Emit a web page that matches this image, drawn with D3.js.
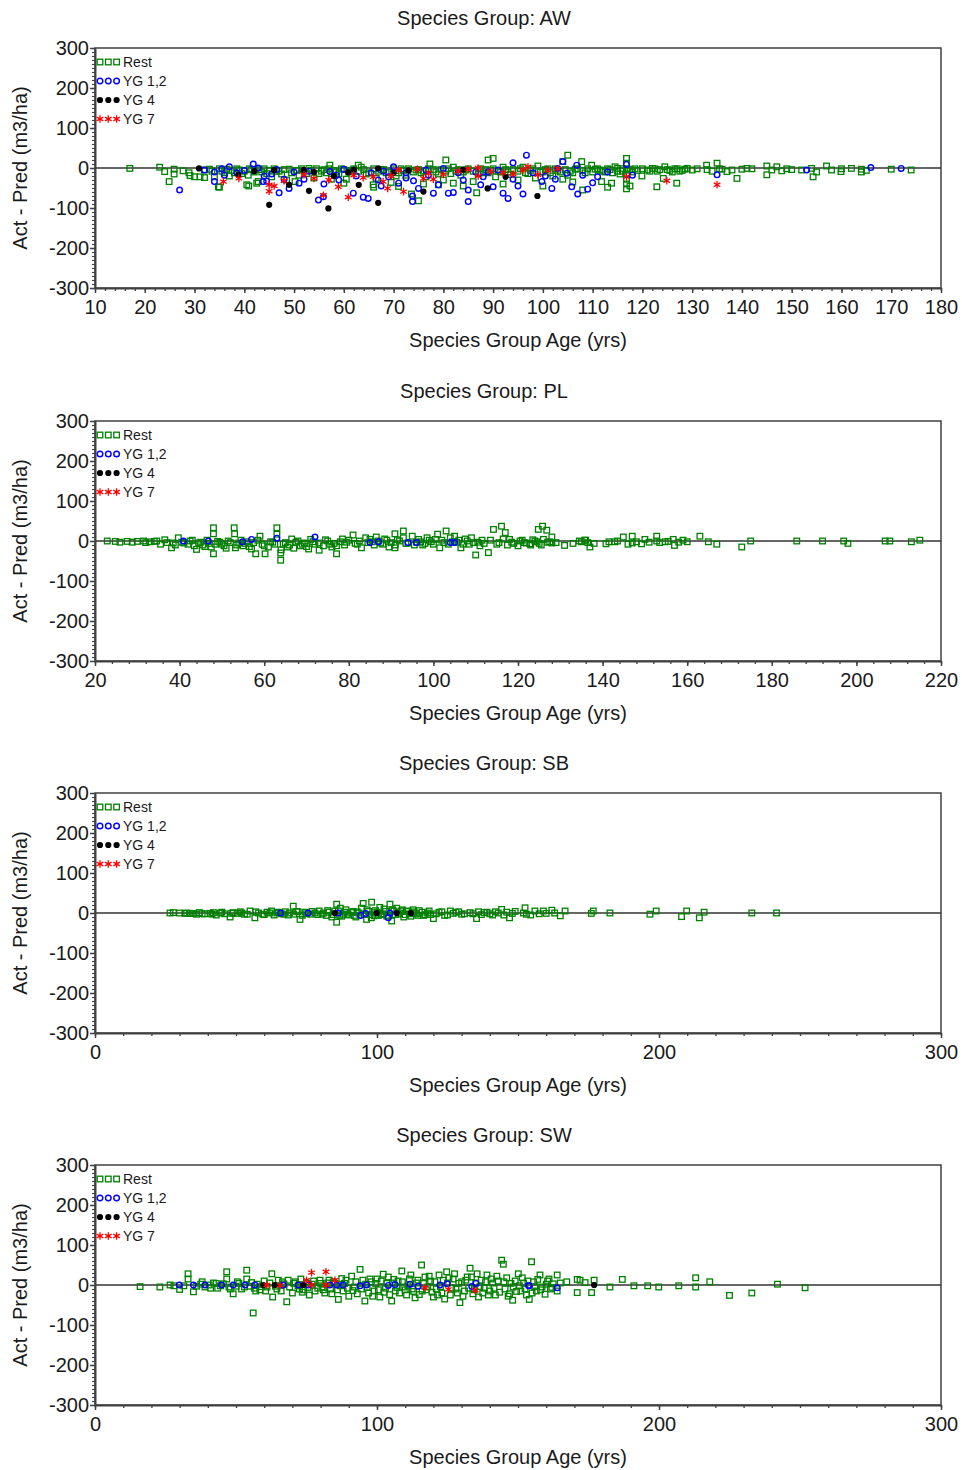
<!DOCTYPE html>
<html><head><meta charset="utf-8">
<script src="https://cdn.jsdelivr.net/npm/d3@7"></script>
<style>
html,body{margin:0;padding:0;background:#fff;}
svg{display:block;font-family:"Liberation Sans",Arial,sans-serif;}
</style></head>
<body>
<svg id="chart" width="962" height="1470"></svg>
<script>
// ---------- DATA ----------
const panelTitles = ["Species Group: AW","Species Group: PL","Species Group: SB","Species Group: SW"];
const seriesNames = ["Rest","YG 1,2","YG 4","YG 7"];
const xDomains = [[10,180],[20,220],[0,300],[0,300]];
const xMajorTicks = [
  [10,20,30,40,50,60,70,80,90,100,110,120,130,140,150,160,170,180],
  [20,40,60,80,100,120,140,160,180,200,220],
  [0,100,200,300],
  [0,100,200,300]
];
const xMinorSteps = [2,4,10,10];
const yTicks = [-300,-200,-100,0,100,200,300];
const xTitle = "Species Group Age (yrs)";
const yTitle = "Act - Pred (m3/ha)";

const awRest = [[17,-1],[23,2],[24,-9],[24.9,-34],[25.9,-3],[25.9,-15],[27.7,-7],[28.9,-12],[29.1,-19],[30,-22],[31.1,-22],[32,-24],[32,-5],[33,-3],[34,-22],[34.8,-47],[35,-48],[35.5,-8],[36.5,-3],[37,-20],[38,-12],[39,-5],[40.5,-42],[40.9,-45],[40.8,-18],[41.5,-4],[42.5,-38],[42.8,-34],[43.5,-10],[44,-2],[45.5,-22],[46.5,-8],[47.5,-15],[48.5,-30],[49,-3],[50.2,-34],[51,-18],[52,-8],[53,-1],[54,-25],[55,-14],[56,-4],[57.2,7],[57.5,-28],[58.5,-10],[59.5,-2],[60.5,-28],[61.5,-6],[62.9,7],[63.5,2],[64.5,-15],[65.9,-42],[66.5,-26],[67.5,-4],[68.5,-12],[69.5,-36],[70.5,-20],[71.5,-2],[72.5,-18],[73.6,-65],[74.5,-5],[75,-82],[75.5,-12],[76.5,-22],[77.3,10],[78,-4],[79,-15],[80,-30],[80.5,20],[81,-2],[82,-38],[82.5,-8],[83.5,-18],[84.5,-5],[86,-34],[86.7,-62],[87.5,-2],[88,-12],[89,20],[89.5,-6],[90,24],[90.5,-22],[91.5,-10],[92.5,-4],[93.5,-16],[95,-30],[95.5,-2],[96.5,-12],[97.5,-6],[98.5,-25],[99,5],[100,-10],[101,-2],[102,-20],[103,-6],[104,16],[105,32],[105.5,-8],[106.5,-3],[107.8,16],[108.5,-12],[109.8,7],[110.5,-3],[111.5,-5],[111.8,-34],[112.5,-10],[113,-2],[113.8,-38],[114.5,3],[115,-8],[115.5,-15],[116,-2],[116.8,24],[116.8,12],[116.8,-5],[116.8,-15],[116.8,-28],[116.8,-40],[116.8,-52],[117.5,-4],[118,-10],[119.9,-20],[120,-2],[121,-5],[122,-1],[122.9,-47],[123,-8],[124.2,-26],[124.5,3],[125,-4],[126,-10],[126.9,-38],[127,-2],[128,-6],[129,-1],[132.9,7],[133,-4],[134,-8],[135,12],[135.5,-2],[137,-9],[139,-26],[140,-3],[141,-1],[145,5],[145,-17],[146,-5],[147,3],[148,-7],[152,-5],[154,-1],[154.3,-22],[155,-10],[157,5],[158,-5],[159.9,-9],[164,-10],[164,-3],[174,-5],
  [33.5,-8],[35,-2],[36,-12],[37.5,-6],[38.5,-2],[39.5,-14],[40,-8],[41,-2],[42,-10],[43,-4],[44.5,-14],[45,-6],[46,-2],[47,-8],[48,-4],[49.5,-12],[50.5,-6],[51.5,-2],[52.5,-14],[53.5,-6],[54.5,-2],[55.5,-8],[56.5,-12],[57,-2],[58,-6],[59,-14],[60,-4],[61,-10],[62,-2],[63,-8],[64,-4],[65,-12],[66,-2],[67,-8],[68,-4],[69,-10],[70,-2],[71,-12],[72,-6],[73,-2],[74,-10],[75,-4],[76,-8],[77,-2],[78.5,-10],[79.5,-4],[80.5,-8],[81.5,-14],[82,2],[83,-4],[84,-10],[85,-2],[86,-8],[87,-14],[88.5,-4],[89,-12],[90,-2],[91,-8],[92,2],[93,-10],[94,-4],[95,-8],[96,2],[97,-14],[98,-2],[99.5,-10],[100.5,-4],[101.5,-12],[102.5,-2],[103.5,-10],[104.5,-4],[105,-18],[106,-12],[107,-2],[108,-6],[109,-2],[110,-10],[111,-2],[112,-8],[113.5,-4],[114,-12],[115,-1],[116,-8],[117,-3],[118.5,-2],[119,-6],[121.5,-8],[122.5,-2],[123.5,-4],[125.5,-6],[126.5,-2],[127.5,-8],[128.5,-3],[130,-5],[131,-2],[136,-3],[138,-5],[142,-2],[149,-2],[150,-4],[160,-2],[162,-1],[165,-6],[170,-3],
  [60,-38],[66,-48],[71,-46],[76,-40],[79,-42],[84,-45],[92,-40],[100,-45],[106,-35],[108,-55],[113,-48],[117.5,-45],[104,-28]];
const awYG12 = [[27,-55],[32,-5],[34,-34],[34,-10],[35.5,-2],[37,3],[38.5,-12],[41.8,10],[42.8,0],[43.8,-34],[44.5,-33],[45.5,-15],[47,-62],[49,-51],[51,-38],[53,-8],[54.9,-80],[55.9,-72],[57.2,-9],[58.5,-18],[60,-3],[61.9,-63],[63.9,-73],[64.9,-76],[66.9,-30],[68,-8],[70,3],[71,-38],[72.5,-25],[72.5,-12],[73.8,-84],[73.8,-70],[75,-51],[76.5,-5],[78,-63],[80,-1],[81,-63],[82,-61],[84,-30],[85,-55],[85,-84],[86.5,-10],[88,-22],[90,-47],[91,-5],[92,-63],[93,-76],[94,13],[94,-28],[96,-65],[96.7,32],[99.8,-34],[101.8,-51],[103,-1],[104,16],[104.8,-13],[105.8,-47],[106.8,7],[107,-65],[109,-53],[110,-37],[116.8,9],[135,-17],[153,-5],[165.9,1],[172,-1],
  [36,-18],[40,-6],[44,-20],[46.5,-4],[48,-28],[50,-10],[52,-28],[56,-40],[59,-30],[62.5,-20],[65.5,-12],[67.5,-45],[69,-22],[74,-32],[77,-18],[79,-42],[83,-12],[87.5,-42],[89,-10],[95,-45],[98,-12],[100.5,-20],[102.5,-28],[108,-18],[111,-22],[113,-10],[118,-18]];
const awYG4 = [[30.9,-1],[38.8,-17],[45,-92],[46,-5],[49,-42],[51.9,-5],[53,-57],[54,-10],[56.9,-101],[60.9,-11],[63,-42],[66.9,-1],[66.9,-87],[76,-59],[88.9,-51],[98.9,-70],[42,-8],[58,-20],[62,-4],[70,-12],[73,-6],[84,-4],[92.5,-22]];
const awYG7 = [[35.8,-34],[38.9,-26],[45,-58],[45,-42],[46,-45],[52,-17],[54,-26],[55.9,-68],[58.9,-47],[60.9,-73],[63.9,-24],[65.9,-22],[67.9,-34],[68.8,-51],[71,-5],[72,-59],[74.8,-3],[76,-26],[77,-13],[78,-28],[85,-3],[87,-20],[87,0],[94,-15],[96,-5],[97,3],[99,-17],[116.8,-22],[124.9,-32],[135,-42],[48,-32],[57,-30],[62,-18],[69.5,-20],[80,-16],[83,-8],[89.5,-8],[92,-12],[101,-6],[103,-2]];

const plRest = [[22.9,0],[24.8,-1],[25.9,-3],[27.6,-1],[28.8,-3],[30,-1],[31.5,0],[33,-2],[34.6,0],[35.5,-8],[36.5,3],[38.1,-17],[38.5,-5],[39.7,8],[40.5,-3],[42,-8],[43,2],[44,-21],[44.5,-5],[45.5,-10],[46.5,2],[47.5,-15],[48,33],[48,18],[48,-32],[48.5,-8],[49.5,-3],[50.5,-12],[51.5,0],[52.9,33],[53,18],[53.2,-17],[54,-5],[55,-12],[56,-2],[57,-20],[58,-32],[59,12],[59.5,-8],[60.2,-32],[61,-15],[62,-3],[63,33],[63,17],[63.9,-48],[63.9,-30],[64.5,-8],[65.5,-15],[66.5,5],[67.5,-3],[68.5,-12],[69.5,-5],[70.5,-20],[71.5,-2],[73,-23],[73,-5],[74.5,3],[75.5,-8],[76,-15],[77.1,-32],[77.1,-12],[78.5,5],[79.5,-3],[81,15],[82,-8],[83,-17],[84,8],[85.5,-2],[86.5,10],[87.5,-5],[88.5,5],[89.5,-15],[90.9,18],[90.9,-17],[91.5,3],[92.9,25],[92.9,8],[94,-5],[95,12],[96,-3],[97.5,-10],[98.5,8],[99.5,-2],[101,17],[101.5,-17],[102,2],[103,25],[103.5,-8],[104,8],[105,12],[105.5,-3],[106.5,-17],[107.5,5],[108.5,-8],[109,8],[110,-35],[110.5,-3],[111.5,2],[113,-29],[114.2,29],[115,-8],[116.1,37],[116.5,5],[117,21],[117.5,-10],[118.5,-3],[120,-12],[121,2],[122,-5],[122.8,-7],[123.5,3],[124.8,29],[125.8,37],[126.8,27],[127,-3],[128,10],[128,-5],[125.5,-10],[124.5,-2],[131,-11],[133,-6],[134.5,0],[135.8,2],[136.5,-4],[137,-15],[140.8,-7],[142.9,-2],[144.9,10],[146,-8],[147,12],[147,-5],[149.2,-7],[150,4],[152.8,12],[152.8,0],[154.8,-2],[156.7,4],[157,-11],[158,-3],[163,12],[165,-2],[167,-8],[172.9,-15],[175,0],[185.9,0],[192,0],[197,0],[198,-6],[206.8,0],[207.9,0],[213,-2],[215,2],
  [32,-4],[34,-1],[37,-4],[39,-10],[41,-5],[42.5,0],[43.5,-12],[45,-3],[46,-14],[47,-6],[49,-1],[50,-8],[51,-18],[52,-4],[53.5,-10],[54.5,2],[55.5,-6],[56.5,-14],[57.5,-4],[58.5,2],[60,-12],[61.5,-2],[62.5,-8],[64,-22],[65,-4],[66,-10],[67,-18],[68,0],[69,-8],[70,-14],[71,4],[72,-8],[74,-12],[75,0],[76.5,-6],[78,-2],[79,-10],[80,2],[81.5,-6],[82.5,0],[84.5,-4],[85,4],[86,-10],[87,0],[88,-8],[89,2],[90,-4],[91,-10],[92,0],[93.5,-6],[95.5,-10],[96.5,4],[97,-2],[98,-6],[99,2],[100,-8],[100.5,4],[102.5,-4],[104.5,-2],[106,2],[107,-8],[108,0],[109.5,-4],[111,-12],[112,-6],[113.5,2],[115.5,-4],[118,4],[119,-6],[120.5,0],[121.5,-4],[123,-10],[124,0],[125,-6],[126,4],[127.5,-2],[129,-4],[135,-2],[136,2],[138,-6],[141.5,-2],[143.5,0],[148,-2],[151,-3],[153.5,-4],[155.5,-1],[159,2],[160,-2]];
const plYG12 = [[40.9,0],[46.8,0],[54.9,-2],[57,4],[63,7],[72,10],[85,-4],[87,-2],[94,-4],[96,-4],[104,-4],[105,-4]];
const plYG4 = [];
const plYG7 = [];

const sbRest = [[26.6,0],[27.8,1],[31.9,-1],[33.5,-1],[34.5,-1],[36,-3],[38,-2],[40.8,-1],[42,1],[43,-5],[44.5,0],[46,-2],[47.9,-10],[49,1],[50.5,-1],[51.5,3],[53,-3],[55,5],[56.7,-12],[58,0],[59.5,-3],[61,2],[62.6,5],[63.5,-5],[64.5,0],[66,-2],[67.5,3],[68.5,-5],[70.3,17],[70.5,-3],[71.5,4],[72.7,-16],[73.5,-6],[74.5,2],[76.5,-3],[78,0],[79.5,5],[80.5,-3],[82,-6],[83,2],[84.5,-4],[85.7,22],[85.7,-23],[86.3,5],[87.5,-8],[88.5,2],[89.5,-3],[91,1],[92,-6],[93,3],[95.1,24],[96.3,-16],[96.5,8],[97.5,-4],[98.1,27],[99,-7],[100,2],[101.5,-4],[102.5,10],[103.5,-8],[104.6,22],[105.2,-20],[106,5],[107.5,-3],[108.5,5],[109.5,-10],[110.5,5],[111.5,-2],[112.8,8],[113.5,0],[114.5,-6],[116,2],[117,-4],[118.5,5],[120,-14],[121,-2],[123,3],[125,-5],[126,5],[127,-1],[128,2],[130,-3],[134,-2],[135.3,-14],[136,3],[137,-4],[138,1],[140,-2],[144.2,9],[145,-5],[146,2],[147,-12],[148,-1],[149,4],[151.9,0],[152.5,13],[153,-3],[154.5,-5],[156,5],[157.5,-2],[159,5],[160,-1],[162,7],[163,0],[165,-7],[166.7,5],[176.7,5],[176,-1],[182.6,0],[196.8,-3],[199,5],[208,-9],[209.8,5],[214.3,-12],[216,2],[232.9,0],[241.7,0],
  [30,0],[32.5,0],[35,-1],[37,1],[39,-2],[41.5,-3],[45,2],[48.5,-1],[52,0],[54,-3],[57,3],[60,-4],[62,0],[65,2],[67,-3],[69,0],[72,3],[75,-2],[77,4],[79,-4],[81,0],[82.5,6],[84,-10],[85,5],[86.8,-6],[87,12],[88,-3],[89,8],[90,-5],[91.5,4],[92.5,-10],[93.5,0],[94.5,12],[95.5,-4],[97,4],[98,-12],[99.5,6],[100.5,-6],[101,14],[102,-2],[103,4],[104,-6],[105.5,8],[106.5,-4],[107,12],[108,0],[109,8],[110,-4],[111,4],[112,-8],[113,3],[114,-2],[115,6],[116.5,-6],[118,0],[119,-4],[122,2],[124,-6],[129,3],[131,-2],[133,1],[139,2],[141,-5],[142,3],[143,0]];
const sbYG12 = [[65.8,0],[75.6,0],[86.3,0],[94.2,-6],[96,-1],[104.6,0],[104,-12]];
const sbYG4 = [[85,0],[99.9,0],[107,0],[112,0]];
const sbYG7 = [];

const swRest = [[16,-4],[23,-5],[26.6,0],[28,-2],[30,-11],[31.5,-2],[33,28],[33,15],[34.9,-17],[36,-3],[37.5,2],[39,-5],[40.5,0],[42,5],[43.5,-8],[44.5,-2],[45.5,3],[46.7,33],[46.7,15],[47.5,-5],[49,-22],[50,-3],[51,4],[52,-10],[53.8,37],[53.8,15],[55,-3],[56.1,-70],[56.5,-8],[57.5,2],[58.5,-12],[60,10],[61,-5],[62.7,28],[63,-30],[64,-3],[65,12],[66,-15],[67,3],[68,-42],[69,-5],[70,-20],[71,8],[72,-2],[73,15],[74,-12],[75,5],[76,-25],[77,2],[78,-15],[79.8,12],[80.5,-5],[81.5,-20],[82.5,5],[83.5,-10],[84.5,8],[86.3,-36],[87,-2],[88,-15],[89,12],[90,-28],[91,22],[92,-5],[94,39],[94.5,-10],[95.7,-40],[96,2],[97,-20],[98,8],[99,-15],[100,15],[101,-30],[102.2,27],[103,-8],[104,20],[105.2,-40],[105.5,5],[106.5,-15],[107.5,10],[108.8,35],[109.5,-5],[110.5,-25],[111.5,15],[112.5,-10],[113.5,-32],[114,5],[115.8,50],[116,-15],[117,20],[118,-5],[119,10],[120,-30],[121,-10],[122,25],[123,-20],[124.7,33],[125,5],[126,-25],[127,15],[128,-10],[129.4,-44],[130,8],[131,-15],[132,20],[133,42],[134,-22],[135,5],[136,-30],[137,12],[138,-8],[139,25],[140,-15],[141,5],[142,-25],[143,10],[144.2,62],[144.8,52],[145.4,-10],[146,18],[147,-22],[148.1,-38],[148.3,-5],[149,10],[150.1,28],[151,-15],[152,5],[153,-25],[154,-36],[154.8,58],[155.5,8],[156.5,-15],[157.8,25],[158.5,-5],[159.6,-23],[160.5,10],[161.5,-10],[162.5,3],[163.9,25],[163.9,-15],[165,5],[167.3,8],[171,14],[171,-19],[172,12],[173.8,6],[176.1,-19],[177,12],[182.6,-5],[187,14],[191.1,-2],[196,-2],[199.9,-5],[207,-2],[213,18],[213,-5],[218,8],[225,-26],[232.9,-20],[242,2],[251.8,-7],
  [38,8],[41,-8],[43,4],[48,-10],[50.5,8],[53,-5],[55.5,6],[57,-15],[59,-4],[60.5,-15],[62,5],[64.5,-10],[66.5,8],[68.5,12],[70.5,4],[72.5,-10],[73.5,-18],[75.5,-6],[77.5,10],[79,-8],[80,4],[81,-12],[83,12],[84,-22],[85,4],[86,-12],[87.5,16],[88.5,4],[89.5,-8],[91.5,-14],[92.5,8],[93,-22],[95,12],[96.5,-6],[97.5,15],[98.5,-28],[99.5,4],[100.5,-12],[101.5,10],[102.5,-18],[103.5,4],[104.5,-24],[106,14],[107,-6],[108,-20],[109,8],[110,-12],[111,-2],[112,25],[113,-16],[114.5,12],[115,-24],[116.5,4],[117.5,-12],[118.5,22],[119.5,-18],[120.5,8],[121.5,-25],[122.5,-4],[123.5,12],[124,-35],[125.5,18],[126.5,-8],[127.5,28],[128.5,-20],[129,4],[130.5,-28],[131.5,12],[132.5,-8],[133.5,20],[134.5,-12],[135.5,28],[136.5,-4],[137.5,-20],[138.5,8],[139.5,-25],[140.5,15],[141.5,-8],[142.5,22],[143.5,-18],[145,8],[146.5,-28],[147.5,4],[149.5,-16],[150.5,-2],[151.5,18],[152.5,-10],[153.5,10],[155,-20],[156,-4],[157,14],[158,-12],[160,2],[161,15],[162,-6]];
const swYG12 = [[29.9,0],[34.9,0],[39,0],[44.9,0],[49,0],[53.2,0],[56.7,0],[66.8,0],[72.1,0],[75.6,0],[83.3,0],[85.7,0],[88,0],[94,-2],[96.3,0],[104,-1],[106.4,1],[111.7,2],[114.6,-3],[122.3,0],[124.9,3],[133.6,-4],[135.1,4],[153.7,-1],[154,-2],[163.9,-7]];
const swYG4 = [[59.7,0],[63.8,0],[73.9,0],[177,0]];
const swYG7 = [[60.9,0],[65.6,-1],[75,12],[76.8,31],[76.8,0],[81.9,33],[81.9,0],[85.1,12],[117,-7],[125.3,-11],[134.8,-13]];

const panelData = [
  [awRest, awYG12, awYG4, awYG7],
  [plRest, plYG12, plYG4, plYG7],
  [sbRest, sbYG12, sbYG4, sbYG7],
  [swRest, swYG12, swYG4, swYG7]
];

// ---------- LAYOUT / STYLE ----------
const svg = d3.select("#chart");
const plotLeft = 95, plotRight = 941, plotH = 240;
const panelTops = [48, 421, 793, 1165];
const colors = ["#008000", "#0000ff", "#000000", "#ff0000"];
const textColor = "#1a1a1a";
const axisColor = "#404040";
const fmt = d => String(d);

function drawMarker(g, type, x, y) {
  if (type === 0) {
    g.append("rect").attr("x", x - 2.8).attr("y", y - 2.8).attr("width", 5.6).attr("height", 5.6)
      .attr("fill", "none").attr("stroke", colors[0]).attr("stroke-width", 1.3);
  } else if (type === 1) {
    g.append("circle").attr("cx", x).attr("cy", y).attr("r", 2.8)
      .attr("fill", "none").attr("stroke", colors[1]).attr("stroke-width", 1.4);
  } else if (type === 2) {
    g.append("circle").attr("cx", x).attr("cy", y).attr("r", 3.1)
      .attr("fill", colors[2]);
  } else {
    const r = 3.8, d = r * 0.87, h = r * 0.5;
    g.append("path")
      .attr("d", `M${x},${y - r}L${x},${y + r}M${x - d},${y - h}L${x + d},${y + h}M${x - d},${y + h}L${x + d},${y - h}`)
      .attr("stroke", colors[3]).attr("stroke-width", 1.3).attr("fill", "none");
  }
}

panelTitles.forEach((title, i) => {
  const top = panelTops[i], bottom = top + plotH;
  const x = d3.scaleLinear().domain(xDomains[i]).range([plotLeft, plotRight]);
  const y = d3.scaleLinear().domain([-300, 300]).range([bottom, top]);
  const g = svg.append("g");

  g.append("text").attr("x", 484).attr("y", top - 23).attr("text-anchor", "middle")
    .attr("font-size", 20).attr("fill", textColor).text(title);

  g.append("rect").attr("x", plotLeft).attr("y", top).attr("width", plotRight - plotLeft).attr("height", plotH)
    .attr("fill", "none").attr("stroke", axisColor).attr("stroke-width", 1.5);

  g.append("line").attr("x1", plotLeft).attr("x2", plotRight).attr("y1", y(0)).attr("y2", y(0))
    .attr("stroke", "#333").attr("stroke-width", 1.5);

  const [x0, x1] = xDomains[i];
  const xMinor = d3.range(x0, x1 + 0.001, xMinorSteps[i]);
  g.append("g").attr("transform", `translate(0,${bottom})`)
    .call(d3.axisBottom(x).tickValues(xMinor).tickSize(3).tickFormat("").tickSizeOuter(0))
    .call(s => s.select(".domain").remove())
    .call(s => s.selectAll("line").attr("stroke", axisColor).attr("stroke-width", 1.3));
  g.append("g").attr("transform", `translate(0,${bottom})`)
    .call(d3.axisBottom(x).tickValues(xMajorTicks[i]).tickFormat(fmt).tickSize(5).tickPadding(7).tickSizeOuter(0))
    .call(s => s.select(".domain").attr("stroke", axisColor).attr("stroke-width", 2))
    .call(s => s.selectAll("line").attr("stroke", axisColor).attr("stroke-width", 1.5))
    .call(s => s.selectAll("text").attr("font-size", 20).attr("fill", textColor)
      .attr("font-family", '"Liberation Sans",Arial,sans-serif'));

  g.append("g").attr("transform", `translate(${plotLeft},0)`)
    .call(d3.axisLeft(y).tickValues(d3.range(-300, 301, 10)).tickSize(3).tickFormat("").tickSizeOuter(0))
    .call(s => s.select(".domain").remove())
    .call(s => s.selectAll("line").attr("stroke", axisColor).attr("stroke-width", 1.1));
  g.append("g").attr("transform", `translate(${plotLeft},0)`)
    .call(d3.axisLeft(y).tickValues(yTicks).tickFormat(fmt).tickSize(5).tickPadding(1).tickSizeOuter(0))
    .call(s => s.select(".domain").attr("stroke", axisColor).attr("stroke-width", 2))
    .call(s => s.selectAll("line").attr("stroke", axisColor).attr("stroke-width", 1.5))
    .call(s => s.selectAll("text").attr("font-size", 20).attr("fill", textColor)
      .attr("font-family", '"Liberation Sans",Arial,sans-serif'));

  g.append("text").attr("x", 518).attr("y", bottom + 59).attr("text-anchor", "middle")
    .attr("font-size", 20).attr("fill", textColor).text(xTitle);
  g.append("text").attr("transform", `translate(27,${y(0)}) rotate(-90)`).attr("text-anchor", "middle")
    .attr("font-size", 20).attr("fill", textColor).text(yTitle);

  const pg = g.append("g");
  panelData[i].forEach((series, s) => {
    series.forEach(([a, v]) => drawMarker(pg, s, x(a), y(v)));
  });

  const lg = g.append("g");
  seriesNames.forEach((name, s) => {
    const cy = top + 14 + s * 19;
    [100, 108.3, 116.6].forEach(mx => drawMarker(lg, s, mx, cy));
    lg.append("text").attr("x", 123).attr("y", cy + 5).attr("font-size", 14)
      .attr("fill", textColor).text(name);
  });
});
</script>
</body></html>
